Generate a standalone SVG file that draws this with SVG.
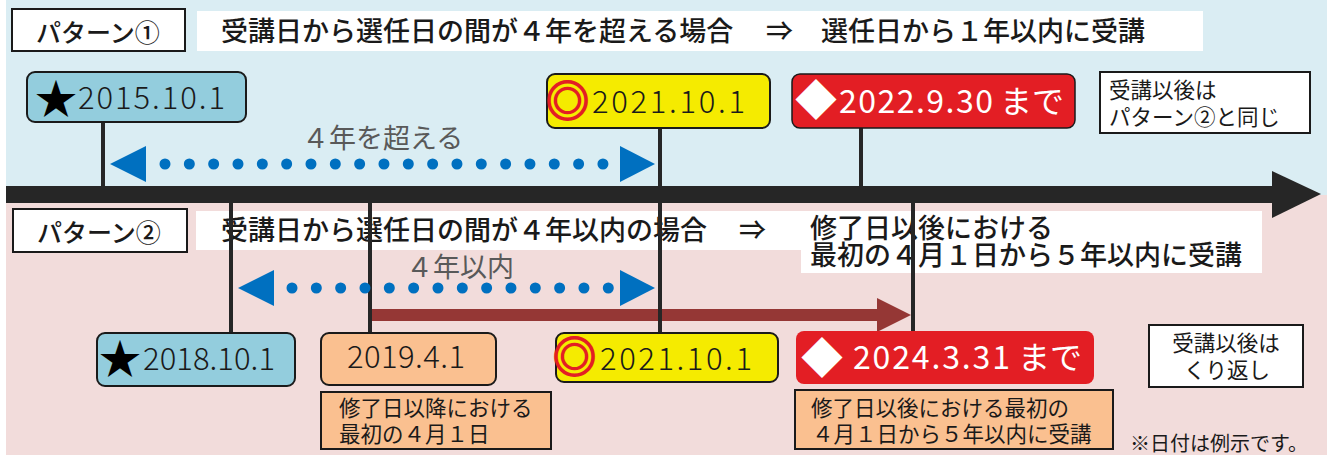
<svg xmlns="http://www.w3.org/2000/svg" width="1330" height="457" viewBox="0 0 1330 457">
<style>
  text { font-family: "Noto Sans CJK JP", "Noto Sans", sans-serif; }
  .hd { font-size: 27px; fill: #1a1a1a; font-weight: 500; }
  .lbl { font-size: 25px; fill: #1a1a1a; font-weight: 500; }
  .gray { font-size: 27px; fill: #595959; font-weight: 400; }
  .sm { font-size: 21.5px; fill: #1a1a1a; }
  .date { font-size: 31px; fill: #1a1a1a; font-weight: 300; }
  .wdate { font-size: 32px; fill: #ffffff; font-weight: 400; }
  .vline { stroke: #262626; stroke-width: 4; fill: none; }
  .dots { stroke: #0070C0; stroke-width: 11; stroke-linecap: round; stroke-dasharray: 0 24.33; fill: none; }
  .bluehead { fill: #0070C0; }
  .boxblue { fill: #93CDDD; stroke: #1a1a1a; stroke-width: 2; }
  .boxyel { fill: #F5EB00; stroke: #1a1a1a; stroke-width: 2; }
  .boxpeach { fill: #FAC090; stroke: #1a1a1a; stroke-width: 2; }
  .boxwhite { fill: #ffffff; stroke: #1a1a1a; stroke-width: 2; }
  .dbl { font-size: 43px; fill: #E31E24; stroke: #E31E24; stroke-width: 2; }
</style>

<!-- backgrounds -->
<rect x="6" y="0" width="1321" height="195" fill="#DAEDF3"/>
<rect x="6" y="195" width="1321" height="260" fill="#F2DCDB"/>

<!-- header bands -->
<rect x="197" y="11" width="1006" height="40" fill="#ffffff"/>
<path d="M196 211 H1262 V273 H801 V250 H196 Z" fill="#ffffff"/>

<g id="header1">
  <text class="hd" x="221" y="41">受講日から選任日の間が４年を超える場合</text>
  <text class="hd" x="766" y="41">⇒</text>
  <text class="hd" x="821" y="41">選任日から１年以内に受講</text>
</g>
<g id="header2">
  <text class="hd" x="221" y="240">受講日から選任日の間が４年以内の場合</text>
  <text class="hd" x="739" y="240">⇒</text>
  <text class="hd" x="810" y="238">修了日以後における</text>
  <text class="hd" x="810" y="265">最初の４月１日から５年以内に受講</text>
</g>

<g id="connectors">
  <!-- main timeline -->
  <rect x="6" y="186" width="1268" height="17" fill="#262626"/>
  <polygon points="1272,171 1321,194 1272,218" fill="#262626"/>
  <!-- pattern 1 stems -->
  <line class="vline" x1="103" y1="122" x2="103" y2="187"/>
  <line class="vline" x1="660" y1="128" x2="660" y2="187"/>
  <line class="vline" x1="861" y1="128" x2="861" y2="187"/>
  <!-- pattern 1 dotted double arrow -->
  <polygon class="bluehead" points="110,164 146,146 146,182"/>
  <line class="dots" x1="165" y1="164" x2="603.5" y2="164"/>
  <polygon class="bluehead" points="620,146 655,164 620,182"/>
  <!-- pattern 2 red arrow -->
  <rect x="372" y="309" width="506" height="12" fill="#953735"/>
  <polygon points="877,298 911,315 877,332" fill="#953735"/>
  <!-- pattern 2 stems -->
  <line class="vline" x1="231" y1="203" x2="231" y2="334"/>
  <line class="vline" x1="370" y1="203" x2="370" y2="334"/>
  <line class="vline" x1="660" y1="203" x2="660" y2="334"/>
  <line class="vline" x1="913" y1="203" x2="913" y2="332"/>
  <!-- pattern 2 dotted double arrow -->
  <polygon class="bluehead" points="238,288 274,270 274,306"/>
  <line class="dots" x1="292" y1="288" x2="609" y2="288"/>
  <polygon class="bluehead" points="620,270 655,288 620,306"/>
</g>

<g id="label-4years-over">
  <text class="gray" x="302" y="148">４年を超える</text>
</g>
<g id="label-4years-within">
  <text class="gray" x="406" y="277">４年以内</text>
</g>

<g id="pattern1">
  <rect x="12" y="9" width="173" height="42" fill="#ffffff" stroke="#1a1a1a" stroke-width="2"/>
  <text class="lbl" x="36" y="42">パターン①</text>
</g>
<g id="pattern2">
  <rect x="13" y="209" width="174" height="43" fill="#ffffff" stroke="#1a1a1a" stroke-width="2"/>
  <text class="lbl" x="37" y="242">パターン②</text>
</g>

<g id="date-2015">
  <rect class="boxblue" x="27" y="72" width="219" height="50" rx="8"/>
  <text x="35" y="114" font-size="42" fill="#000">★</text>
  <text class="date" x="78" y="109" textLength="147">2015.10.1</text>
</g>

<g id="date-2021-a">
  <rect class="boxyel" x="547" y="74" width="223" height="54" rx="8"/>
  <text class="dbl" x="546" y="117">◎</text>
  <text class="date" x="592" y="113" textLength="153">2021.10.1</text>
</g>

<g id="deadline-2022">
  <rect x="792" y="74" width="283" height="54" rx="8" fill="#E31E24" stroke="#1a1a1a" stroke-width="1.5"/>
  <text x="795" y="115" font-size="42" fill="#ffffff">◆</text>
  <text class="wdate" x="839" y="113" textLength="154">2022.9.30</text>
  <text class="wdate" x="1000" y="113" font-size="30">まで</text>
</g>

<g id="note-same-as-2">
  <rect class="boxwhite" x="1100" y="72" width="210" height="61"/>
  <text class="sm" x="1109" y="98" font-size="21">受講以後は</text>
  <text class="sm" x="1109" y="125">パターン②と同じ</text>
</g>

<g id="date-2018">
  <rect class="boxblue" x="97" y="333" width="198" height="53" rx="8"/>
  <text x="99" y="374" font-size="42" fill="#000">★</text>
  <text class="date" x="143" y="370" font-size="29" textLength="132">2018.10.1</text>
</g>

<g id="date-2019">
  <rect class="boxpeach" x="321" y="333" width="175" height="52" rx="8"/>
  <text class="date" x="347" y="368" font-size="26" textLength="118">2019.4.1</text>
</g>

<g id="note-2019">
  <rect class="boxpeach" x="321" y="392" width="230" height="57"/>
  <text class="sm" x="339" y="416">修了日以降における</text>
  <text class="sm" x="339" y="442">最初の４月１日</text>
</g>

<g id="date-2021-b">
  <rect class="boxyel" x="556" y="333" width="222" height="49" rx="8"/>
  <text class="dbl" x="553" y="373">◎</text>
  <text class="date" x="600" y="370" textLength="152">2021.10.1</text>
</g>

<g id="deadline-2024">
  <rect x="796" y="331" width="298" height="53" rx="8" fill="#E31E24"/>
  <text x="801" y="373" font-size="42" fill="#ffffff">◆</text>
  <text class="wdate" x="853" y="369" textLength="157">2024.3.31</text>
  <text class="wdate" x="1018" y="369" font-size="30">まで</text>
</g>

<g id="note-2024">
  <rect class="boxpeach" x="795" y="390" width="318" height="59"/>
  <text class="sm" x="811" y="416">修了日以後における最初の</text>
  <text class="sm" x="812" y="442">４月１日から５年以内に受講</text>
</g>

<g id="note-repeat">
  <rect class="boxwhite" x="1149" y="325" width="154" height="62"/>
  <text class="sm" x="1226" y="351" font-size="21" text-anchor="middle">受講以後は</text>
  <text class="sm" x="1227" y="378" font-size="21" text-anchor="middle">くり返し</text>
</g>

<g id="footnote">
  <text x="1130" y="451" font-size="20" fill="#1a1a1a">※日付は例示です。</text>
</g>
</svg>
